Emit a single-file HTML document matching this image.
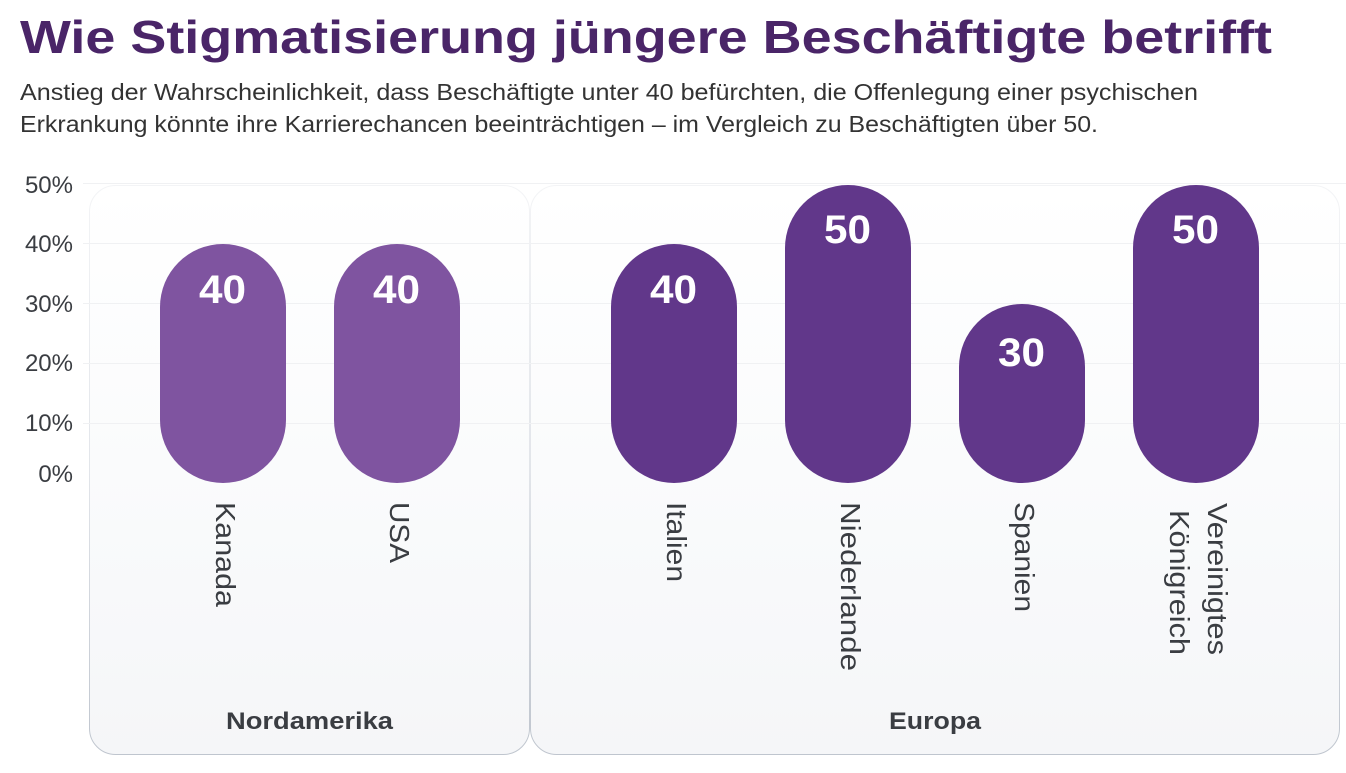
<!DOCTYPE html>
<html><head><meta charset="utf-8"><style>
html,body{margin:0;padding:0;background:#fff;}
svg{display:block;font-family:"Liberation Sans",sans-serif;}
</style></head><body>
<svg width="1346" height="773" viewBox="0 0 1346 773" xmlns="http://www.w3.org/2000/svg">
<defs>
<linearGradient id="pg" x1="0" y1="0" x2="0" y2="1">
<stop offset="0" stop-color="#ffffff"/>
<stop offset="0.5" stop-color="#fafbfc"/>
<stop offset="1" stop-color="#f5f6f8"/>
</linearGradient>
<linearGradient id="bd" x1="0" y1="0" x2="0" y2="1">
<stop offset="0" stop-color="#f3f4f6"/>
<stop offset="0.5" stop-color="#e2e5ea"/>
<stop offset="1" stop-color="#bfc5ce"/>
</linearGradient>
</defs>
<text x="20" y="53" font-size="46" font-weight="bold" fill="#4a2568" textLength="1252" lengthAdjust="spacingAndGlyphs">Wie Stigmatisierung jüngere Beschäftigte betrifft</text>
<text x="20" y="100" font-size="23" fill="#333" textLength="1178" lengthAdjust="spacingAndGlyphs">Anstieg der Wahrscheinlichkeit, dass Beschäftigte unter 40 befürchten, die Offenlegung einer psychischen</text>
<text x="20" y="132" font-size="23" fill="#333" textLength="1078" lengthAdjust="spacingAndGlyphs">Erkrankung könnte ihre Karrierechancen beeinträchtigen – im Vergleich zu Beschäftigten über 50.</text>

<rect x="89.5" y="185.5" width="440" height="569" rx="26" fill="url(#pg)" stroke="url(#bd)"/>
<rect x="530.5" y="185.5" width="809" height="569" rx="26" fill="url(#pg)" stroke="url(#bd)"/>

<g stroke="#f0f1f3" stroke-width="1">
<line x1="83" x2="1346" y1="183.5" y2="183.5"/>
<line x1="83" x2="1346" y1="243.5" y2="243.5"/>
<line x1="83" x2="1346" y1="303.5" y2="303.5"/>
<line x1="83" x2="1346" y1="363.5" y2="363.5"/>
<line x1="83" x2="1346" y1="423.5" y2="423.5"/>
</g>
<g font-size="24" fill="#3a3d42" text-anchor="end">
<text x="73" y="193">50%</text>
<text x="73" y="252">40%</text>
<text x="73" y="312">30%</text>
<text x="73" y="371">20%</text>
<text x="73" y="431">10%</text>
<text x="73" y="482">0%</text>
</g>

<g fill="#7f54a0">
<rect x="160" y="244" width="126" height="239" rx="63"/>
<rect x="334" y="244" width="126" height="239" rx="63"/>
</g>
<g fill="#61378a">
<rect x="611" y="244" width="126" height="239" rx="63"/>
<rect x="785" y="185" width="126" height="298" rx="63"/>
<rect x="959" y="304" width="126" height="179" rx="63"/>
<rect x="1133" y="185" width="126" height="298" rx="63"/>
</g>
<g font-size="40" font-weight="bold" fill="#fff">
<text x="199" y="303" textLength="47" lengthAdjust="spacingAndGlyphs">40</text>
<text x="373" y="303" textLength="47" lengthAdjust="spacingAndGlyphs">40</text>
<text x="650" y="303" textLength="47" lengthAdjust="spacingAndGlyphs">40</text>
<text x="824" y="243" textLength="47" lengthAdjust="spacingAndGlyphs">50</text>
<text x="998" y="366" textLength="47" lengthAdjust="spacingAndGlyphs">30</text>
<text x="1172" y="243" textLength="47" lengthAdjust="spacingAndGlyphs">50</text>
</g>
<g font-size="28" fill="#3a3d42" lengthAdjust="spacingAndGlyphs">
<text transform="translate(216,502) rotate(90)" textLength="105" lengthAdjust="spacingAndGlyphs">Kanada</text>
<text transform="translate(390,502) rotate(90)" textLength="61" lengthAdjust="spacingAndGlyphs">USA</text>
<text transform="translate(667,502) rotate(90)" textLength="80" lengthAdjust="spacingAndGlyphs">Italien</text>
<text transform="translate(841,502) rotate(90)" textLength="169" lengthAdjust="spacingAndGlyphs">Niederlande</text>
<text transform="translate(1015,502) rotate(90)" textLength="110" lengthAdjust="spacingAndGlyphs">Spanien</text>
<text transform="translate(1208,503) rotate(90)" textLength="152" lengthAdjust="spacingAndGlyphs">Vereinigtes</text>
<text transform="translate(1170,510) rotate(90)" textLength="145" lengthAdjust="spacingAndGlyphs">Königreich</text>
</g>
<g font-size="24" font-weight="bold" fill="#3a3d42">
<text x="226" y="729" textLength="167" lengthAdjust="spacingAndGlyphs">Nordamerika</text>
<text x="889" y="729" textLength="92" lengthAdjust="spacingAndGlyphs">Europa</text>
</g>
</svg>
</body></html>
